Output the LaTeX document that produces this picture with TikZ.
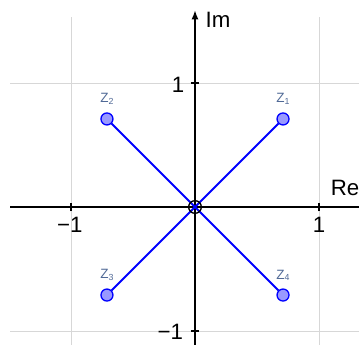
\documentclass[tikz,border=0pt]{standalone}
\usepackage{fontspec}
\setmainfont{Liberation Sans}
\usetikzlibrary{arrows.meta,positioning}
\definecolor{ptfill}{RGB}{153,153,255}
\definecolor{ptline}{RGB}{0,0,255}
\definecolor{lblcolor}{RGB}{80,105,150}
\definecolor{gridgray}{RGB}{215,215,215}
\newcommand{\zsub}[1]{Z\raisebox{-0.25ex}{\fontsize{7.5}{7.5}\selectfont #1}}
\tikzset{
  point/.style={circle, draw=ptline, fill=ptfill, line width=1.1pt, inner sep=0pt, minimum size=0.36cm},
  origin/.style={circle, draw=black, line width=1.2pt, inner sep=0pt, minimum size=0.38cm},
  zlabel/.style={text=lblcolor, font=\fontsize{11.5}{11.5}\selectfont, inner sep=0pt},
  ticklabel/.style={font=\fontsize{19}{19}\selectfont, inner sep=0pt},
  seg/.style={ptline, line width=1.6pt}
}
\begin{document}
\begin{tikzpicture}[>=latex, x=3.72cm, y=3.72cm]
    \useasboundingbox (-1.5726,-1.1129) rectangle (1.3226,1.6694);

    % 1. Lưới
    \draw[gridgray, line width=0.6pt] (-1,-1.2) -- (-1,1.532);
    \draw[gridgray, line width=0.6pt] (1,-1.2) -- (1,1.532);
    \draw[gridgray, line width=0.6pt] (-1.49,1) -- (1.4,1);
    \draw[gridgray, line width=0.6pt] (-1.49,-1) -- (1.4,-1);

    % 2. Trục tọa độ
    \draw[line width=1.9pt] (-1.49,0) -- (1.4,0);
    \draw[-{Latex[length=8pt,width=6pt]}, line width=1.9pt] (0,-1.2) -- (0,1.589);
    \node[ticklabel] (im) at (0.185,1.508) {Im};
    \node[ticklabel] (re) at (1.21,0.153) {Re};

    % vạch chia
    \foreach \t in {-1,1} {
        \draw[line width=1.4pt] (\t,-0.035) -- (\t,0.035);
        \draw[line width=1.4pt] (-0.035,\t) -- (0.035,\t);
    }
    \node[ticklabel] (xm) at (-1.01,-0.145) {−1};
    \node[ticklabel] (xp) at (1,-0.145) {1};
    \node[ticklabel] (yp) at (-0.137,0.984) {1};
    \node[ticklabel] (ym) at (-0.2,-1.008) {−1};

    % 3. Các điểm và đoạn thẳng
    \coordinate (O) at (0,0);
    \node[point] (z1) at (0.71,0.71) {};
    \node[point] (z2) at (-0.71,0.71) {};
    \node[point] (z3) at (-0.71,-0.71) {};
    \node[point] (z4) at (0.71,-0.71) {};
    \foreach \i in {1,...,4}
        \draw[seg] (O) -- (z\i);
    \node[origin] (o) at (O) {};

    % 4. Nhãn
    \node[zlabel, above=0.22cm of z1] (l1) {\zsub{1}};
    \node[zlabel, above=0.22cm of z2] (l2) {\zsub{2}};
    \node[zlabel, above=0.22cm of z3] (l3) {\zsub{3}};
    \node[zlabel, above=0.22cm of z4] (l4) {\zsub{4}};
\end{tikzpicture}
\end{document}
